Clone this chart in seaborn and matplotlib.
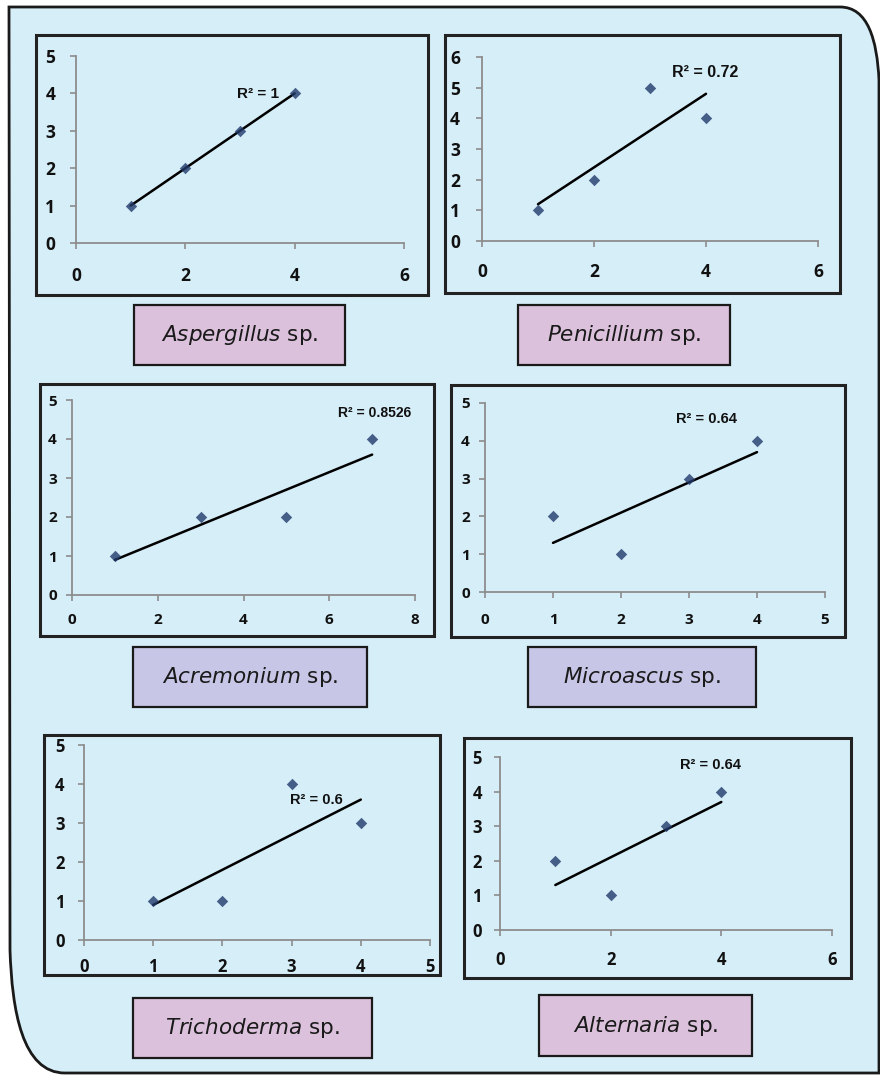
import numpy as np
import pandas as pd
import matplotlib
matplotlib.use("Agg")
import matplotlib.pyplot as plt
import seaborn as sns
from matplotlib.patches import Rectangle, PathPatch
from matplotlib.path import Path

# ---------------- data ----------------
genera = ["Aspergillus", "Penicillium", "Acremonium", "Microascus", "Trichoderma", "Alternaria"]
aspergillus_x = [1, 2, 3, 4]
aspergillus_y = [1, 2, 3, 4]
penicillium_x = [1, 2, 3, 4]
penicillium_y = [1, 2, 5, 4]
acremonium_x = [1, 3, 5, 7]
acremonium_y = [1, 2, 2, 4]
microascus_x = [1, 2, 3, 4]
microascus_y = [2, 1, 3, 4]
trichoderma_x = [1, 2, 3, 4]
trichoderma_y = [1, 1, 4, 3]
alternaria_x = [1, 2, 3, 4]
alternaria_y = [2, 1, 3, 4]
r2_labels = ["R² = 1", "R² = 0.72", "R² = 0.8526", "R² = 0.64", "R² = 0.6", "R² = 0.64"]
x_max = [6, 6, 8, 5, 5, 6]
y_max = [5, 6, 5, 5, 5, 5]
x_step = [2, 2, 2, 1, 1, 2]

xs_all = [aspergillus_x, penicillium_x, acremonium_x, microascus_x, trichoderma_x, alternaria_x]
ys_all = [aspergillus_y, penicillium_y, acremonium_y, microascus_y, trichoderma_y, alternaria_y]

# ---------------- layout (pixels) ----------------
W, H = 880, 1075
# data area: left, top, right, bottom
axes_px = [(76, 56, 404, 243), (482, 57, 818, 241), (72, 400, 415, 595),
           (485, 403, 825, 592), (84, 745, 430, 940), (500, 757, 832, 930)]
frame_px = [(36, 35, 428, 295), (445, 35, 840, 293), (40, 384, 434, 636),
            (451, 385, 845, 637), (44, 735, 440, 975), (464, 738, 851, 978)]
label_px = [(134, 305, 345, 365), (518, 305, 730, 365), (133, 647, 367, 707),
            (528, 647, 756, 707), (133, 998, 372, 1058), (539, 995, 752, 1056)]
label_col = ["#dcc1dd", "#dcc1dd", "#c7c6e6", "#c7c6e6", "#dcc1dd", "#dcc1dd"]
r2_pos = [(3.72, 3.98, "right"), (3.39, 5.48, "left"), (6.2, 4.67, "left"),
          (2.81, 4.58, "left"), (2.98, 3.59, "left"), (3.25, 4.77, "left")]
tick_fs = [12.5, 12.5, 11, 11, 12, 12]
ypad = [11, 12, 7, 7, 10, 9]
xpad = [13, 12, 9, 11, 9, 11]
r2_fs = [11, 11.5, 10, 10.5, 10.5, 10.5]

BG = "#d6eef8"
MARK = "#213a6b"

sns.set_style("white")
plt.rcParams["font.family"] = ["Open Sans", "DejaVu Sans"]
plt.rcParams["mathtext.fontset"] = "dejavusans"

fig = plt.figure(figsize=(W / 100, H / 100), dpi=100)
fig.patch.set_facecolor("white")


def fx(x):
    return x / W


def fy(y):
    return 1 - y / H


# outer rounded panel
pts = [(9, 7), (840, 7), (868, 7), (877, 40), (879, 80), (879, 1073),
       (65, 1073), (22, 1073), (12, 1010), (10, 950), (9, 7)]
codes = [Path.MOVETO, Path.LINETO, Path.CURVE4, Path.CURVE4, Path.CURVE4, Path.LINETO,
         Path.LINETO, Path.CURVE4, Path.CURVE4, Path.CURVE4, Path.CLOSEPOLY]
path = Path([(fx(a), fy(b)) for a, b in pts], codes)
fig.patches.append(PathPatch(path, transform=fig.transFigure, facecolor=BG,
                             edgecolor="#1a1a1a", lw=2, zorder=-2))

for i in range(6):
    # chart frame
    l, t, r, b = frame_px[i]
    fig.patches.append(Rectangle((fx(l), fy(b)), fx(r - l), (b - t) / H,
                                 transform=fig.transFigure, facecolor="none",
                                 edgecolor="#222222", lw=2.2, zorder=-1))
    # label box
    l2, t2, r2, b2 = label_px[i]
    fig.patches.append(Rectangle((fx(l2), fy(b2)), fx(r2 - l2), (b2 - t2) / H,
                                 transform=fig.transFigure, facecolor=label_col[i],
                                 edgecolor="#1a1a1a", lw=1.6, zorder=-1))
    fig.text(fx((l2 + r2) / 2), fy((t2 + b2) / 2), r"$\mathit{%s}$ sp." % genera[i],
             ha="center", va="center", fontsize=15.5, color="#1a1a1a",
             family="DejaVu Sans", zorder=2)

    # axes
    al, at, ar, ab = axes_px[i]
    ax = fig.add_axes([fx(al), fy(ab), fx(ar - al), (ab - at) / H])
    ax.set_facecolor("none")
    ax.set_zorder(1)
    df = pd.DataFrame({"x": xs_all[i], "y": ys_all[i]})
    sns.regplot(data=df, x="x", y="y", ax=ax, ci=None, truncate=True, marker="D",
                scatter_kws={"s": 34, "color": MARK, "clip_on": False, "zorder": 3,
                             "linewidths": 0},
                line_kws={"color": "black", "lw": 1.8, "zorder": 2})
    ax.set_xlim(0, x_max[i])
    ax.set_ylim(0, y_max[i])
    ax.set_xticks(np.arange(0, x_max[i] + 0.01, x_step[i]))
    ax.set_yticks(np.arange(0, y_max[i] + 0.01, 1))
    ax.set_xlabel("")
    ax.set_ylabel("")
    for s in ["top", "right"]:
        ax.spines[s].set_visible(False)
    for s in ["left", "bottom"]:
        ax.spines[s].set_color("#8c8c8c")
        ax.spines[s].set_linewidth(1.3)
    ax.tick_params(axis="both", direction="out", length=4, width=1.2, color="#8c8c8c",
                   labelsize=tick_fs[i], labelcolor="#111111")
    ax.tick_params(axis="y", pad=ypad[i], left=True)
    ax.tick_params(axis="x", pad=xpad[i], bottom=True)
    for lab in ax.get_xticklabels() + ax.get_yticklabels():
        lab.set_fontweight("bold")
    rx, ry, ha = r2_pos[i]
    ax.text(rx, ry, r2_labels[i], ha=ha, va="center", fontsize=r2_fs[i],
            fontweight="bold", color="#111111", family=["Liberation Sans", "DejaVu Sans"])

fig.savefig("out.png", dpi=100, facecolor="white")
